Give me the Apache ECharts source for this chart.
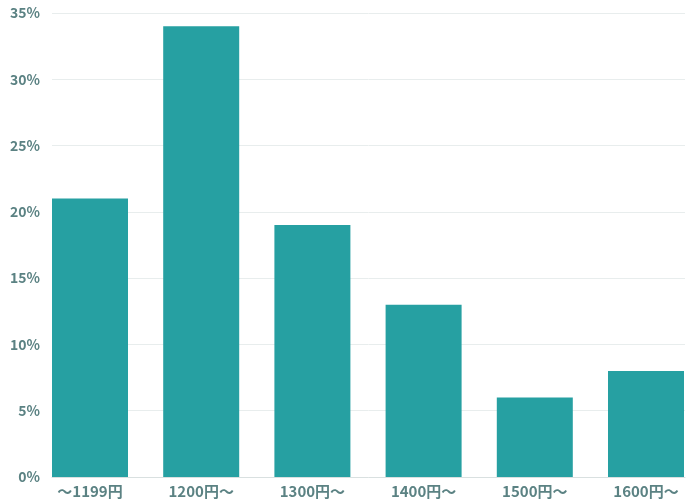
<!DOCTYPE html>
<html><head><meta charset="utf-8">
<script src="https://cdn.jsdelivr.net/npm/echarts@6/dist/echarts.min.js"></script>
<style>html,body{margin:0;padding:0;background:#fff}#c{width:695px;height:500px}</style>
</head><body><div id="c"></div>
<script>
var categories = ['〜1199円','1200円〜','1300円〜','1400円〜','1500円〜','1600円〜'];
var values = [21, 34, 19, 13, 6, 8];
var yTicks = [0, 5, 10, 15, 20, 25, 30, 35];

var font = '"Noto Sans CJK JP", "Noto Sans", sans-serif';
var labelColor = '#5b8283';
var chart = echarts.init(document.getElementById('c'));
chart.setOption({
  animation: false,
  grid: [
    {left: 52, right: 10, top: 13, bottom: 23, outerBoundsMode: 'none'},
    {left: 34.4, width: 667.2, top: 13, bottom: 23, outerBoundsMode: 'none'}
  ],
  xAxis: [
    {gridIndex: 0, type: 'category', data: categories, show: true,
     axisLine: {lineStyle: {color: '#d9e0e0'}}, axisTick: {show: false}, axisLabel: {show: false}},
    {gridIndex: 1, type: 'category', data: categories,
     axisLine: {show: false}, axisTick: {show: false},
     axisLabel: {color: labelColor, fontFamily: font, fontWeight: 'bold', fontSize: 15, margin: 7}}
  ],
  yAxis: [
    {gridIndex: 0, type: 'value', min: 0, max: 35, interval: 5,
     axisLine: {show: false}, axisTick: {show: false},
     splitLine: {lineStyle: {color: '#e8eded'}},
     axisLabel: {color: labelColor, fontFamily: font, fontWeight: 'bold', fontSize: 14, margin: 12,
       formatter: function(v){ return yTicks.indexOf(v) >= 0 ? v + '%' : ''; }}},
    {gridIndex: 1, type: 'value', min: 0, max: 35, interval: 5, show: false, splitLine: {show: false}}
  ],
  series: [{
    type: 'bar', xAxisIndex: 1, yAxisIndex: 1, data: values, barWidth: 76,
    itemStyle: {color: '#26a0a2'}
  }]
});
</script></body></html>
